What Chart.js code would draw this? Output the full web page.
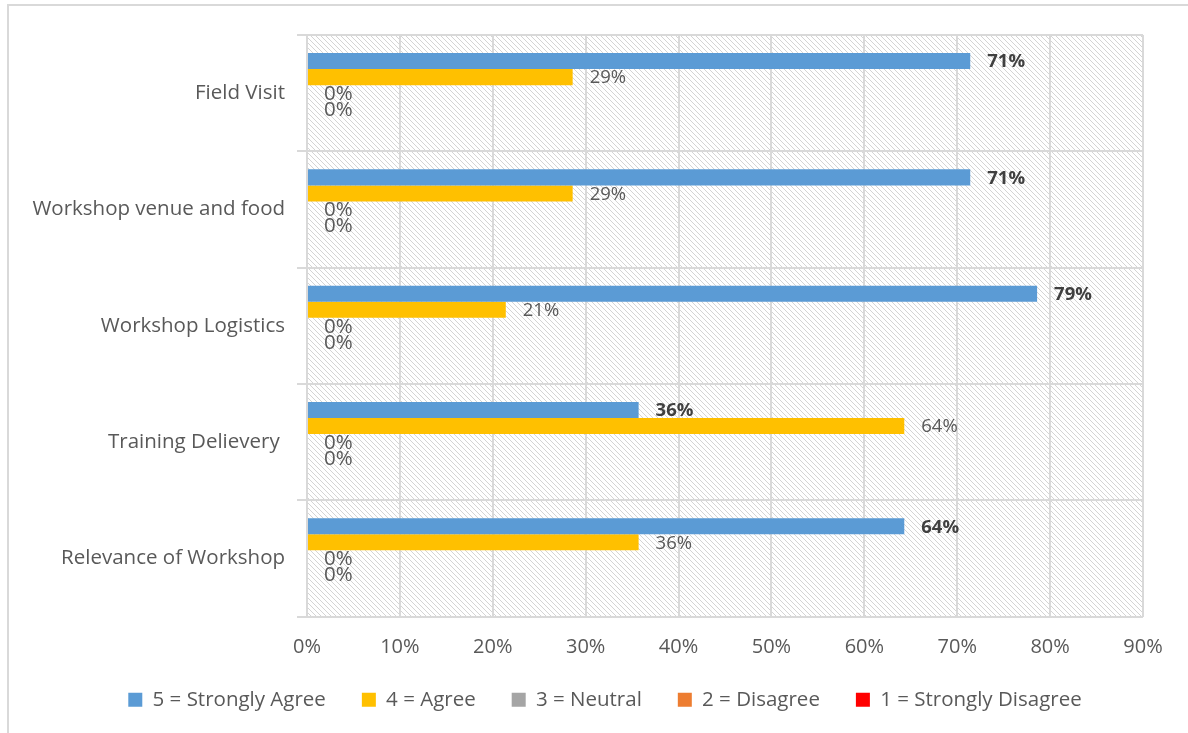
<!DOCTYPE html>
<html>
<head>
<meta charset="utf-8">
<script src="https://cdn.jsdelivr.net/npm/chart.js@4.4.0/dist/chart.umd.min.js"></script>
<style>
  html, body { margin: 0; padding: 0; background: #ffffff; }
  #wrap { width: 1188px; height: 733px; position: relative; }
</style>
</head>
<body>
<div id="wrap"><canvas id="c" width="1188" height="733"></canvas></div>
<script>
const categories = ["Field Visit", "Workshop venue and food", "Workshop Logistics", "Training Delievery ", "Relevance of Workshop"];
const strongAgree = [71.4, 71.4, 78.6, 35.7, 64.3];
const agree = [28.6, 28.6, 21.4, 64.3, 35.7];
const neutral = [0, 0, 0, 0, 0];
const disagree = [0, 0, 0, 0, 0];
const strongDisagree = [0, 0, 0, 0, 0];
const seriesNames = ["5 = Strongly Agree", "4 = Agree", "3 = Neutral", "2 = Disagree", "1 = Strongly Disagree"];
const xTicks = [0, 10, 20, 30, 40, 50, 60, 70, 80, 90];

const FONT = "'Open Sans', sans-serif";
const TEXT = "#595959";

function makeHatch() {
  const s = 5;
  const c = document.createElement('canvas');
  c.width = s; c.height = s;
  const g = c.getContext('2d');
  g.fillStyle = '#ffffff';
  g.fillRect(0, 0, s, s);
  g.strokeStyle = '#d4d4d4';
  g.lineWidth = 1;
  g.beginPath();
  for (const o of [-s, 0, s]) {
    g.moveTo(o, 0);
    g.lineTo(o + s, s);
  }
  g.stroke();
  return g.createPattern(c, 'repeat');
}

const hatchPlugin = {
  id: 'hatch',
  beforeDraw(chart) {
    const { ctx, chartArea: a } = chart;
    ctx.save();
    ctx.fillStyle = makeHatch();
    ctx.fillRect(a.left, a.top, a.right - a.left, a.bottom - a.top);
    // outer chart border
    ctx.strokeStyle = '#d9d9d9';
    ctx.lineWidth = 2;
    ctx.beginPath();
    ctx.moveTo(8, 740);
    ctx.lineTo(8, 5);
    ctx.lineTo(1200, 5);
    ctx.stroke();
    ctx.restore();
  }
};

const labelPlugin = {
  id: 'valueLabels',
  afterDatasetsDraw(chart) {
    const { ctx } = chart;
    ctx.save();
    ctx.textBaseline = 'middle';
    ctx.textAlign = 'left';
    chart.data.datasets.forEach((ds, di) => {
      if (!ds.showLabel) return;
      const meta = chart.getDatasetMeta(di);
      meta.data.forEach((bar, i) => {
        const v = ds.data[i];
        const txt = Math.round(v) + '%';
        if (di === 0) {
          ctx.font = "bold 18.5px " + FONT;
          ctx.fillStyle = '#404040';
        } else if (v === 0) {
          ctx.font = "20.5px " + FONT;
          ctx.fillStyle = TEXT;
        } else {
          ctx.font = "18.5px " + FONT;
          ctx.fillStyle = TEXT;
        }
        ctx.fillText(txt, bar.x + 17, bar.y + 1);
      });
    });
    ctx.restore();
  }
};

const colors = ['#5b9bd5', '#ffc000', '#a5a5a5', '#ed7d31', '#ff0000'];
const allData = [strongAgree, agree, neutral, disagree, strongDisagree];
const showLabels = [true, true, true, true, false];

const PAD_L = 22;

const chart = new Chart(document.getElementById('c'), {
  type: 'bar',
  data: {
    labels: categories,
    datasets: allData.map((d, i) => ({
      label: seriesNames[i],
      data: d,
      backgroundColor: colors[i],
      borderWidth: 0,
      categoryPercentage: 0.69,
      barPercentage: 1.0,
      showLabel: showLabels[i]
    }))
  },
  options: {
    indexAxis: 'y',
    responsive: false,
    animation: false,
    devicePixelRatio: 1,
    layout: { padding: { left: PAD_L, top: 35, right: 0, bottom: 13 } },
    scales: {
      x: {
        min: 0, max: 90,
        afterBuildTicks(scale) { scale.ticks = xTicks.map(v => ({ value: v })); },
        afterFit(scale) { scale.height = 37; },
        ticks: {
          callback: v => v + '%',
          color: TEXT,
          font: { family: FONT, size: 20 },
          padding: 19
        },
        grid: { color: '#d9d9d9', lineWidth: 2, drawTicks: false },
        border: { display: false }
      },
      y: {
        afterFit(scale) { scale.width = 307 - PAD_L; },
        ticks: {
          color: TEXT,
          font: { family: FONT, size: 20.5 },
          padding: 12
        },
        grid: { color: '#d9d9d9', lineWidth: 2, offset: true, tickLength: 10 },
        border: { color: '#d9d9d9', width: 2 }
      },
      yRight: {
        type: 'category',
        position: 'right',
        afterFit(scale) { scale.width = 45; },
        ticks: { display: false },
        grid: { display: false },
        border: { display: false }
      }
    },
    plugins: {
      legend: {
        position: 'bottom',
        labels: {
          boxWidth: 14,
          boxHeight: 14,
          color: TEXT,
          font: { family: FONT, size: 20.5 },
          padding: 36
        }
      },
      tooltip: { enabled: false }
    }
  },
  plugins: [hatchPlugin, labelPlugin]
});
</script>
</body>
</html>
